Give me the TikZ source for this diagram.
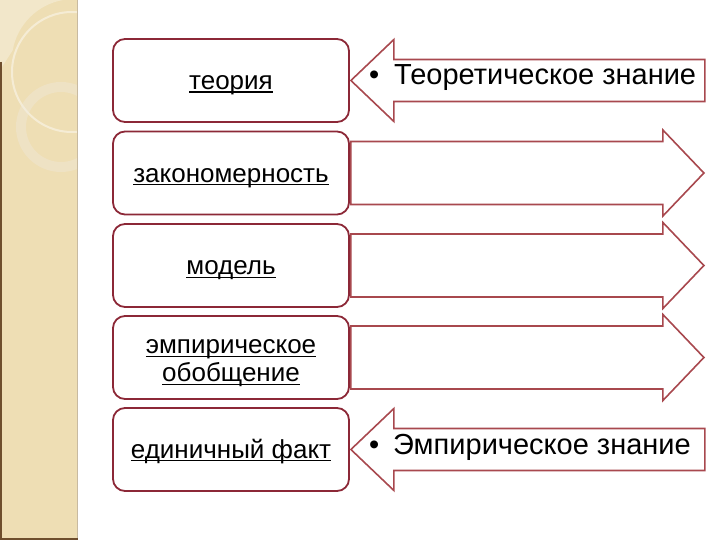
\documentclass[tikz,border=0pt]{standalone}
\usepackage{fontspec}
\setmainfont{Liberation Sans}
\usetikzlibrary{calc}
\definecolor{boxred}{RGB}{140,40,55}
\definecolor{arrred}{RGB}{168,72,78}
\definecolor{stripe}{RGB}{238,222,180}
\definecolor{stripelt}{RGB}{242,231,202}
\definecolor{stripeedge}{RGB}{200,186,160}
\definecolor{stripedark}{RGB}{110,78,45}
\newcommand\boxul[1]{\setbox0\hbox{#1}\rlap{\rule[-3pt]{\wd0}{1.3pt}}\box0}
\tikzset{
  levelbox/.style={draw=boxred, line width=1.8pt, rounded corners=12pt, fill=white,
    minimum width=236pt, minimum height=83pt, inner sep=0pt},
  leveltext/.style={inner sep=0pt, align=center, font=\fontsize{26}{28}\selectfont},
  arrowline/.style={draw=arrred, line width=1.6pt, fill=white, line join=miter},
  arrowtext/.style={anchor=base west, inner sep=0pt, font=\fontsize{29}{32}\selectfont}
}
\begin{document}
\begin{tikzpicture}[x=1pt, y=-1pt]
\useasboundingbox (0,0) rectangle (720,540);
% left stripe of the slide
\begin{scope}
\clip (0,0) rectangle (78,540);
\fill[stripe] (0,0) rectangle (78,540);
\fill[stripelt] (0,0) -- (63,0) arc[start angle=-100, end angle=-170, radius=62] -- (0,70) -- cycle;
\draw[white, opacity=.45, line width=2pt] (72,72) circle[radius=60];
\draw[white!70!stripeedge, opacity=.35, line width=10pt] (61,127) circle[radius=40];
\end{scope}
\draw[stripeedge, line width=1.6pt] (77.5,0) -- (77.5,540);
\draw[stripedark, line width=2pt] (1,62) -- (1,540);
\draw[stripedark, line width=2pt] (0,539) -- (78,539);
% levels
\node[levelbox] (teoriya) at (231,80.5) {};
\node[levelbox] (zakon) at (231,173) {};
\node[levelbox] (model) at (231,265.5) {};
\node[levelbox] (obobsh) at (231,357.5) {};
\node[levelbox] (fakt) at (231,449.5) {};
\node[leveltext] (teoriya-t) at ([yshift=-5pt]teoriya.center) {\boxul{теория}};
\node[leveltext] (zakon-t) at ([yshift=-5pt]zakon.center) {\boxul{закономерность}};
\node[leveltext] (model-t) at ([yshift=-5pt]model.center) {\boxul{модель}};
\node[leveltext] (obobsh-t) at ([yshift=-6pt]obobsh.center) {\boxul{эмпирическое}\\\boxul{обобщение}};
\node[leveltext] (fakt-t) at ([yshift=-2pt]fakt.center) {\boxul{единичный факт}};
% arrows to the right
\foreach \b in {zakon, model, obobsh}
  \draw[arrowline] ([shift={(1,-31.5)}]\b.east) -- ++(312,0) -- ++(0,-11.5) -- ++(41,43)
    -- ++(-41,43) -- ++(0,-11.5) -- ++(-312,0) -- cycle;
% arrows to the left
\foreach \b in {teoriya, fakt}
  \draw[arrowline] ([shift={(1,0)}]\b.east) -- ++(43,-41) -- ++(0,20) -- ++(311,0)
    -- ++(0,42) -- ++(-311,0) -- ++(0,20) -- cycle;
\node[arrowtext] (teorznan) at (369,85) {\makebox[25pt][l]{\textbullet}Теоретическое знание};
\node[arrowtext] (empznan) at (369,454) {\makebox[24pt][l]{\textbullet}Эмпирическое знание};
\end{tikzpicture}
\end{document}
